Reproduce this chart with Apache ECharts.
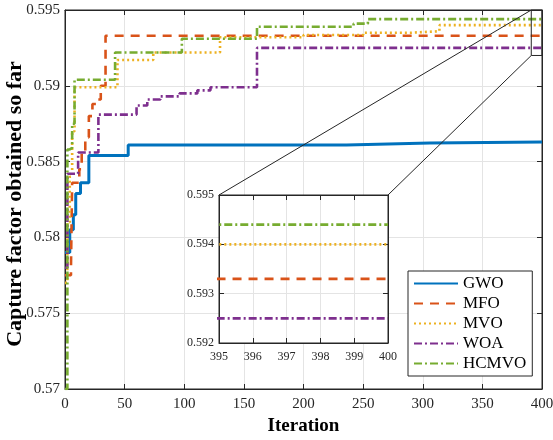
<!DOCTYPE html>
<html>
<head>
<meta charset="utf-8">
<script src="https://cdn.jsdelivr.net/npm/echarts@6/dist/echarts.min.js"></script>
<style>
  html, body { margin: 0; padding: 0; background: #fff; }
  #chart { width: 553px; height: 440px; }
</style>
</head>
<body>
<div id="chart"></div>
<script>
// Best-so-far capture factor per algorithm (iteration where a new value starts, value)
const seriesNames = ['GWO', 'MFO', 'MVO', 'WOA', 'HCMVO'];

const gwoIter = [0, 4, 7, 9, 13, 20, 53, 236, 306, 400];
const gwoFit  = [0.5790, 0.5805, 0.5815, 0.5829, 0.5836, 0.5854, 0.5861, 0.58622, 0.5863, 0.5863];

const mfoIter = [0, 5, 6, 12, 14, 17, 20, 23, 27, 30, 34, 400];
const mfoFit  = [0.5775, 0.5780, 0.5836, 0.5845, 0.5856, 0.5866, 0.5880, 0.5888, 0.5891, 0.5900, 0.5933, 0.5933];

const mvoIter = [0, 2, 4, 6, 8, 44, 74, 130, 200, 250, 290, 314, 400];
const mvoFit  = [0.5770, 0.5810, 0.5840, 0.5870, 0.5899, 0.5917, 0.5922, 0.5932, 0.59335, 0.5935, 0.5936, 0.5940, 0.5940];

const woaIter = [0, 2, 11, 28, 60, 69, 80, 96, 111, 122, 161, 400];
const woaFit  = [0.5780, 0.5842, 0.5856, 0.5881, 0.5887, 0.5891, 0.5893, 0.5895, 0.5897, 0.5899, 0.5925, 0.5925];

const hcmvoIter = [0, 2, 4, 6, 8, 42, 98, 161, 242, 254, 400];
const hcmvoFit  = [0.5700, 0.5858, 0.5859, 0.5875, 0.5904, 0.5922, 0.5931, 0.5939, 0.5941, 0.5944, 0.5944];

// Axis ranges
const mainX = { min: 0, max: 400, interval: 50 };
const mainY = { min: 0.57, max: 0.595, interval: 0.005 };
const insetX = { min: 395, max: 400, interval: 1 };
const insetY = { min: 0.592, max: 0.595, interval: 0.001 };
// Region of the main plot that the inset enlarges
const zoomBox = { x0: 391, x1: 400, y0: 0.592, y1: 0.595 };

const colors = ['#0072BD', '#D95319', '#EDB120', '#7E2F8E', '#77AC30'];
const dashes = ['solid', [9, 7], [2, 3], [8, 3, 2, 3], [8, 3, 2, 3]];
const widths = [3, 2.6, 2.6, 2.6, 2.6];
const iters = [gwoIter, mfoIter, mvoIter, woaIter, hcmvoIter];
const fits = [gwoFit, mfoFit, mvoFit, woaFit, hcmvoFit];

const FONT = 'Liberation Serif';
const INK = '#262626';
const GRIDC = '#e4e4e4';

function pairs(xs, ys) { return xs.map((x, i) => [x, ys[i]]); }
function trimFmt(v) { return String(parseFloat(v.toFixed(3))); }

function makeX(gridIndex, range, pos, showLabels, fontSize, z) {
  return {
    type: 'value', gridIndex, position: pos, z,
    min: range.min, max: range.max, interval: range.interval,
    axisLine: { show: true, onZero: false, lineStyle: { color: INK, width: 1 } },
    axisTick: { show: true, inside: true, length: 5, lineStyle: { color: INK } },
    axisLabel: { show: showLabels, color: INK, fontFamily: FONT, fontSize, margin: 8 },
    splitLine: { show: showLabels, lineStyle: { color: GRIDC, width: 1 } }
  };
}
function makeY(gridIndex, range, pos, showLabels, fontSize, z) {
  return {
    type: 'value', gridIndex, position: pos, z,
    min: range.min, max: range.max, interval: range.interval,
    axisLine: { show: true, onZero: false, lineStyle: { color: INK, width: 1 } },
    axisTick: { show: true, inside: true, length: 5, lineStyle: { color: INK } },
    axisLabel: { show: showLabels, color: INK, fontFamily: FONT, fontSize, margin: 5, formatter: trimFmt },
    splitLine: { show: showLabels, lineStyle: { color: GRIDC, width: 1 } }
  };
}

const xAxes = [
  Object.assign(makeX(0, mainX, 'bottom', true, 15, 0), {
    name: 'Iteration', nameLocation: 'middle', nameGap: 28, nameMoveOverlap: false,
    nameTextStyle: { fontFamily: FONT, fontSize: 19, fontWeight: 'bold', color: '#000' }
  }),
  makeX(0, mainX, 'top', false, 15, 0),
  makeX(1, insetX, 'bottom', true, 12, 3),
  makeX(1, insetX, 'top', false, 12, 3)
];
const yAxes = [
  Object.assign(makeY(0, mainY, 'left', true, 15, 0), {
    name: 'Capture factor obtained so far', nameLocation: 'middle', nameGap: 39, nameMoveOverlap: false,
    nameTextStyle: { fontFamily: FONT, fontSize: 22, fontWeight: 'bold', color: '#000', padding: [0, 9, 0, 0] }
  }),
  makeY(0, mainY, 'right', false, 15, 0),
  makeY(1, insetY, 'left', true, 12, 3),
  makeY(1, insetY, 'right', false, 12, 3)
];

const series = [];
[0, 2].forEach((axisIdx, part) => {
  seriesNames.forEach((name, k) => {
    series.push({
      name, type: 'line', step: 'end',
      xAxisIndex: axisIdx, yAxisIndex: axisIdx,
      data: pairs(iters[k], fits[k]),
      symbol: 'none', showSymbol: false, clip: true, silent: true,
      z: part === 0 ? 2 : 4,
      lineStyle: { color: colors[k], width: widths[k], type: dashes[k] },
      itemStyle: { color: colors[k] }
    });
  });
});

const chart = echarts.init(document.getElementById('chart'), null, { renderer: 'canvas' });
chart.setOption({
  animation: false,
  backgroundColor: '#fff',
  grid: [
    { left: 65, right: 11, top: 10, bottom: 51, outerBoundsMode: 'none', containLabel: false,
      show: true, borderColor: INK, borderWidth: 1, backgroundColor: 'transparent', z: 0 },
    { left: 219, right: 165, top: 195, bottom: 97, outerBoundsMode: 'none', containLabel: false,
      show: true, borderColor: INK, borderWidth: 1, backgroundColor: '#fff', z: 2 }
  ],
  xAxis: xAxes,
  yAxis: yAxes,
  legend: {
    data: seriesNames, orient: 'vertical', left: 408, top: 271,
    itemWidth: 44, itemHeight: 14, itemGap: 3,
    padding: [4, 6, 4, 5],
    borderColor: INK, borderWidth: 1, backgroundColor: '#fff', z: 6,
    itemStyle: { opacity: 0, borderWidth: 0 },
    textStyle: { fontFamily: FONT, fontSize: 17, color: '#000', lineHeight: 17 }
  },
  series
});

// Outline of the enlarged region and the lines tying it to the inset
const toMain = v => chart.convertToPixel({ seriesIndex: 0 }, v);
const toInset = v => chart.convertToPixel({ seriesIndex: seriesNames.length }, v);
const b0 = toMain([zoomBox.x0, zoomBox.y1]);
const b1 = toMain([zoomBox.x1, zoomBox.y0]);
const i0 = toInset([insetX.min, insetY.max]);
const i1 = toInset([insetX.max, insetY.max]);
const stroke = { stroke: INK, lineWidth: 1, fill: null };
chart.setOption({
  graphic: [
    { type: 'rect', z: 5, shape: { x: b0[0], y: b0[1], width: b1[0] - b0[0], height: b1[1] - b0[1] }, style: stroke, silent: true },
    { type: 'line', z: 5, shape: { x1: i0[0], y1: i0[1], x2: b0[0], y2: b0[1] }, style: stroke, silent: true },
    { type: 'line', z: 5, shape: { x1: i1[0], y1: i1[1], x2: b0[0], y2: b1[1] }, style: stroke, silent: true }
  ]
});
</script>
</body>
</html>
